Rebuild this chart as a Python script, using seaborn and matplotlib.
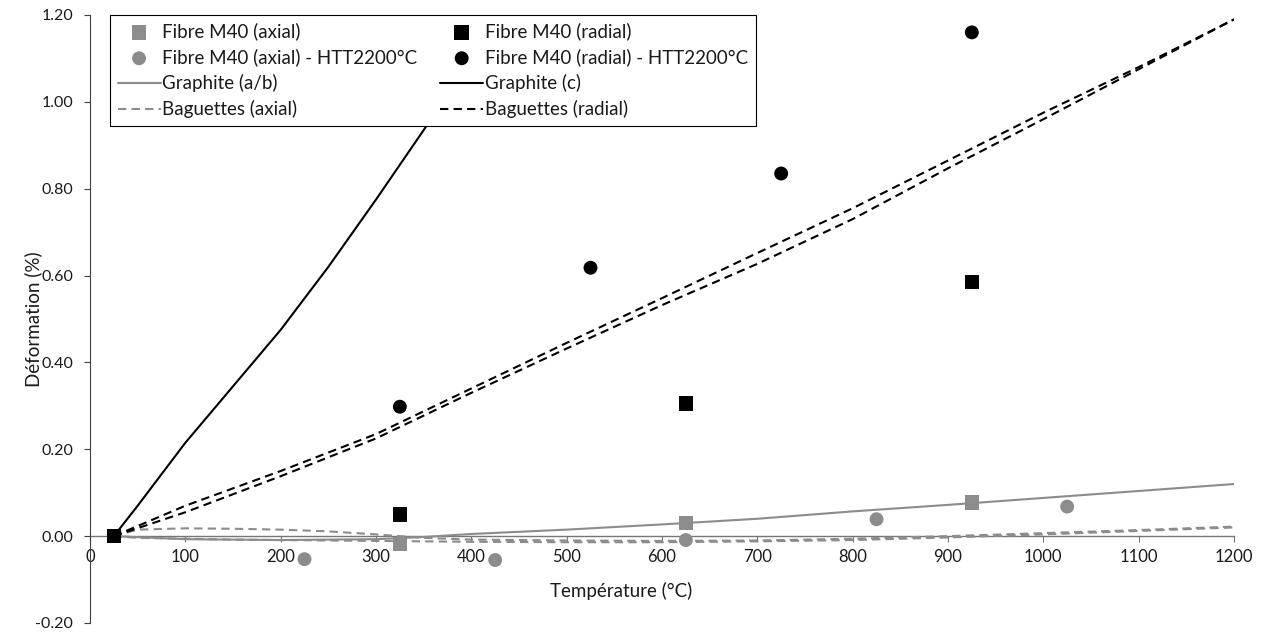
import matplotlib
matplotlib.use("Agg")
import matplotlib.pyplot as plt
import seaborn as sns
from matplotlib.ticker import FormatStrFormatter

# ---------------- data ----------------
t_fibre = [25, 325, 625, 925]
fibre_axial = [0.0, -0.018, 0.030, 0.078]
fibre_radial = [0.0, 0.050, 0.306, 0.585]

t_htt_axial = [225, 425, 625, 825, 1025]
htt_axial = [-0.053, -0.055, -0.009, 0.039, 0.068]
t_htt_radial = [325, 525, 725, 925]
htt_radial = [0.298, 0.618, 0.835, 1.160]

t_graph_ab = [25, 100, 200, 300, 350, 400, 500, 600, 700, 800, 900, 1000, 1100, 1200]
graph_ab = [0.0, -0.007, -0.009, -0.007, -0.002, 0.005, 0.015, 0.027, 0.040, 0.057, 0.072, 0.088, 0.104, 0.120]

t_graph_c = [25, 50, 100, 150, 200, 250, 300, 350, 400, 450]
graph_c = [0.0, 0.07, 0.215, 0.345, 0.475, 0.62, 0.775, 0.935, 1.10, 1.27]

t_bag = [25, 50, 100, 150, 200, 250, 300, 350, 400, 500, 600, 700, 800, 900, 1000, 1100, 1200]
bag_axial_1 = [0.0, 0.015, 0.018, 0.017, 0.015, 0.011, 0.004, -0.004, -0.008, -0.010, -0.011, -0.010, -0.006, 0.000, 0.007, 0.014, 0.022]
bag_axial_2 = [0.0, -0.004, -0.006, -0.008, -0.009, -0.010, -0.011, -0.012, -0.013, -0.014, -0.014, -0.012, -0.009, -0.003, 0.004, 0.012, 0.020]

t_bag_r = [25, 100, 200, 300, 400, 500, 600, 700, 800, 900, 1000, 1100, 1200]
bag_radial_1 = [0.0, 0.070, 0.150, 0.235, 0.340, 0.445, 0.548, 0.652, 0.755, 0.865, 0.975, 1.080, 1.190]
bag_radial_2 = [0.0, 0.055, 0.138, 0.225, 0.330, 0.432, 0.532, 0.627, 0.730, 0.847, 0.960, 1.075, 1.190]

x_ticks = list(range(0, 1201, 100))
y_ticks = [-0.2, 0.0, 0.2, 0.4, 0.6, 0.8, 1.0, 1.2]

labels = ["Fibre M40 (axial)", "Fibre M40 (radial)",
          "Fibre M40 (axial) - HTT2200°C", "Fibre M40 (radial) - HTT2200°C",
          "Graphite (a/b)", "Graphite (c)",
          "Baguettes (axial)", "Baguettes (radial)"]

# ---------------- style ----------------
sns.set_theme(style="white")
plt.rcParams['font.family'] = ['Lato', 'DejaVu Sans']

GREY = "#8c8c8c"
BLACK = "#000000"
TXT = "#1a1a1a"

fig = plt.figure(figsize=(12.64, 6.32), dpi=100)
ax = fig.add_axes([90 / 1264, 1 - 623 / 632, 1144 / 1264, 608 / 632])

lw = 1.5
dash = (0, (4, 2.5))
sns.lineplot(x=t_graph_ab, y=graph_ab, ax=ax, color=GREY, lw=lw, sort=False, label=labels[4])
sns.lineplot(x=t_graph_c, y=graph_c, ax=ax, color=BLACK, lw=lw, sort=False, label=labels[5])
sns.lineplot(x=t_bag, y=bag_axial_1, ax=ax, color=GREY, lw=lw, sort=False, label=labels[6], linestyle=dash)
sns.lineplot(x=t_bag, y=bag_axial_2, ax=ax, color=GREY, lw=lw, sort=False, label="_nolegend_", linestyle=dash)
sns.lineplot(x=t_bag_r, y=bag_radial_1, ax=ax, color=BLACK, lw=lw, sort=False, label=labels[7], linestyle=dash)
sns.lineplot(x=t_bag_r, y=bag_radial_2, ax=ax, color=BLACK, lw=lw, sort=False, label="_nolegend_", linestyle=dash)

sns.scatterplot(x=t_fibre, y=fibre_axial, ax=ax, marker='s', s=110, color=GREY, edgecolor='none',
                label=labels[0], zorder=5)
sns.scatterplot(x=t_fibre, y=fibre_radial, ax=ax, marker='s', s=110, color=BLACK, edgecolor='none',
                label=labels[1], zorder=6)
sns.scatterplot(x=t_htt_axial, y=htt_axial, ax=ax, marker='o', s=100, color=GREY, edgecolor='none',
                label=labels[2], zorder=5)
sns.scatterplot(x=t_htt_radial, y=htt_radial, ax=ax, marker='o', s=100, color=BLACK, edgecolor='none',
                label=labels[3], zorder=5)

ax.set_xlim(0, 1200)
ax.set_ylim(-0.2, 1.2)
ax.set_xticks(x_ticks)
ax.set_yticks(y_ticks)
ax.xaxis.set_major_formatter(FormatStrFormatter('%d'))
ax.yaxis.set_major_formatter(FormatStrFormatter('%.2f'))

for s in ['top', 'right']:
    ax.spines[s].set_visible(False)
ax.spines['bottom'].set_position(('data', 0))
ax.spines['bottom'].set_color('#767676')
ax.spines['bottom'].set_linewidth(1.0)
ax.spines['left'].set_color('#404040')
ax.spines['left'].set_linewidth(0.8)
ax.spines['bottom'].set_zorder(1)

ax.tick_params(axis='x', which='major', direction='out', length=4, width=0.8, color='#767676',
               labelsize=12, labelcolor=TXT, pad=5, bottom=True)
ax.tick_params(axis='y', which='major', direction='out', length=4, width=0.8, color='#404040',
               labelsize=11.5, labelcolor=TXT, pad=8, left=True)

ax.set_xlabel("Température (°C)", fontsize=13.5, color=TXT)
ax.xaxis.set_label_coords(0.464, 0.068)
ax.set_ylabel("Déformation (%)", fontsize=13.5, color=TXT)
ax.yaxis.set_label_coords(-0.042, 0.5)

# legend
handles, labs = ax.get_legend_handles_labels()
hmap = dict(zip(labs, handles))
order = [labels[0], labels[2], labels[4], labels[6], labels[1], labels[3], labels[5], labels[7]]
leg = ax.legend([hmap[l] for l in order], order, ncol=2, loc='upper left',
                bbox_to_anchor=(20 / 1144, 1.0), borderaxespad=0, frameon=True, fancybox=False,
                edgecolor='black', fontsize=13.5, handlelength=2.3, handletextpad=0.1,
                columnspacing=1.2, labelspacing=0.42, borderpad=0.4, framealpha=1)
leg.get_frame().set_linewidth(0.8)
leg.set_zorder(10)
for t in leg.get_texts():
    t.set_color(TXT)

fig.savefig("out.png", dpi=100)
